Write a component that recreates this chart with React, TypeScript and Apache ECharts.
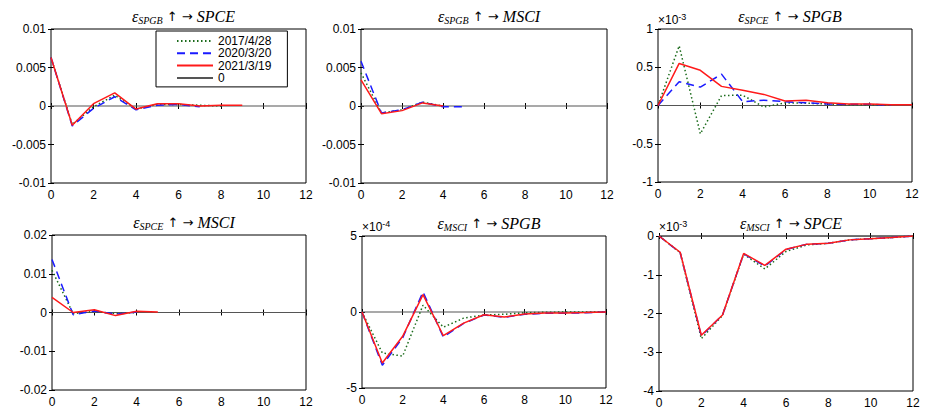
import React, { useEffect, useRef } from 'react';
import * as echarts from 'echarts';

// ---- Data (impulse responses by horizon) ----
const dates = ['2017/4/28', '2020/3/20', '2021/3/19'];
const legendNames = ['2017/4/28', '2020/3/20', '2021/3/19', '0'];

const shocks = ['SPGB', 'SPGB', 'SPCE', 'SPCE', 'MSCI', 'MSCI'];
const responses = ['SPCE', 'MSCI', 'SPGB', 'MSCI', 'SPGB', 'SPCE'];

// y-axis tick settings per panel (values in displayed units)
const yMin = [-0.01, -0.01, -1, -0.02, -5, -4];
const yMax = [0.01, 0.01, 1, 0.02, 5, 0];
const yStep = [0.005, 0.005, 0.5, 0.01, 5, 1];
const yExponent = [null, null, '-3', null, '-4', '-3'];

// Panel 1: SPGB -> SPCE
const p1_2017 = [0.0063, -0.0024, -0.0001, 0.0014, -0.0004, 0.0002, 0.0002, 0.0001, 0.0];
const p1_2020 = [0.0063, -0.0026, -0.0003, 0.0012, -0.0005, 0.0001, 0.0002, -0.0001];
const p1_2021 = [0.0063, -0.0025, 0.0003, 0.0017, -0.0004, 0.0003, 0.0003, 0.0, 0.0001, 0.0001];
// Panel 2: SPGB -> MSCI
const p2_2017 = [0.0043, -0.0009, -0.0005, 0.0005, 0.0];
const p2_2020 = [0.0058, -0.0009, -0.0005, 0.0005, -0.0001, -0.0001];
const p2_2021 = [0.0034, -0.001, -0.0006, 0.0004, 0.0];
// Panel 3: SPCE -> SPGB (x10^-3)
const p3_2017 = [0, 0.78, -0.37, 0.13, 0.135, -0.02, 0.035, 0.03, 0.02, 0.01, 0.01, 0.005];
const p3_2020 = [0, 0.31, 0.24, 0.41, 0.05, 0.07, 0.05, 0.035, 0.02, 0.015, 0.015, 0.005];
const p3_2021 = [0, 0.55, 0.46, 0.25, 0.2, 0.145, 0.06, 0.07, 0.035, 0.02, 0.02, 0.01, 0.01];
// Panel 4: SPCE -> MSCI
const p4_2017 = [0.0109, -0.0003, 0.0003, -0.0003, 0.0];
const p4_2020 = [0.0137, -0.0006, 0.0004, -0.0004, 0.0001];
const p4_2021 = [0.0039, 0.0, 0.0007, -0.0008, 0.0003, 0.0001];
// Panel 5: MSCI -> SPGB (x10^-4)
const p5_2017 = [0, -2.7, -2.9, 0.45, -1.0, -0.4, -0.2, -0.15, -0.05, -0.02, 0, 0, 0];
const p5_2020 = [0, -3.5, -1.7, 1.32, -1.65, -0.75, -0.2, -0.35, -0.15, -0.08, -0.08, -0.05, 0];
const p5_2021 = [0, -3.36, -1.6, 1.14, -1.56, -0.73, -0.18, -0.33, -0.13, -0.07, -0.07, -0.04, 0];
// Panel 6: MSCI -> SPCE (x10^-3)
const p6_2017 = [0, -0.43, -2.65, -2.05, -0.47, -0.85, -0.4, -0.23, -0.19, -0.1, -0.07, -0.04, 0];
const p6_2020 = [0, -0.43, -2.58, -2.04, -0.46, -0.78, -0.35, -0.21, -0.19, -0.1, -0.07, -0.04, 0];
const p6_2021 = [0, -0.42, -2.56, -2.04, -0.45, -0.76, -0.34, -0.21, -0.19, -0.1, -0.07, -0.04, 0];

const zeroLine = [0, 0, 0, 0, 0, 0, 0, 0, 0, 0, 0, 0, 0];

const panels = [
  [p1_2017, p1_2020, p1_2021],
  [p2_2017, p2_2020, p2_2021],
  [p3_2017, p3_2020, p3_2021],
  [p4_2017, p4_2020, p4_2021],
  [p5_2017, p5_2020, p5_2021],
  [p6_2017, p6_2020, p6_2021],
];

// ---- Layout / style ----
const grids = [
  { left: 51, top: 29, width: 255, height: 154 },
  { left: 361, top: 29, width: 246, height: 154 },
  { left: 658, top: 29, width: 254, height: 153 },
  { left: 52, top: 235, width: 254, height: 155 },
  { left: 362, top: 236, width: 244, height: 152 },
  { left: 659, top: 236, width: 254, height: 155 },
];

const lineStyles: any[] = [
  { color: '#1b6b1b', type: [1.5, 2.5], width: 1.5 },
  { color: '#1a1aff', type: [8, 5], width: 1.5 },
  { color: '#ff1a1a', type: 'solid', width: 1.5 },
];
const zeroStyle = { color: '#555', type: 'solid', width: 1.2 };

const sans = 'Liberation Sans, Arial, Helvetica, sans-serif';
const serif = 'Liberation Serif, DejaVu Serif, Times New Roman, serif';

function buildOption() {
  const xAxis: any[] = [];
  const yAxis: any[] = [];
  const series: any[] = [];
  const title: any[] = [];
  const graphic: any[] = [];

  const tick = { show: true, inside: true, length: 3, lineStyle: { color: '#000' } };

  grids.forEach((g, i) => {
    xAxis.push({
      type: 'value', gridIndex: i, min: 0, max: 12, interval: 2,
      axisLine: { show: false }, splitLine: { show: false }, axisTick: tick,
      axisLabel: { color: '#000', fontSize: 12, fontFamily: sans, margin: 6 },
    });
    yAxis.push({
      type: 'value', gridIndex: i, min: yMin[i], max: yMax[i], interval: yStep[i],
      axisLine: { show: false }, splitLine: { show: false }, axisTick: tick,
      axisLabel: { color: '#000', fontSize: 12, fontFamily: sans, margin: 5 },
    });
  });
  grids.forEach((g, i) => {
    xAxis.push({
      type: 'value', gridIndex: i, position: 'top', min: 0, max: 12, interval: 2,
      axisLine: { show: false }, splitLine: { show: false }, axisLabel: { show: false }, axisTick: tick,
    });
    yAxis.push({
      type: 'value', gridIndex: i, position: 'right', min: yMin[i], max: yMax[i], interval: yStep[i],
      axisLine: { show: false }, splitLine: { show: false }, axisLabel: { show: false }, axisTick: tick,
    });
  });

  panels.forEach((p, i) => {
    series.push({
      name: '0', type: 'line', xAxisIndex: i, yAxisIndex: i, symbol: 'none', showSymbol: false,
      lineStyle: zeroStyle, itemStyle: { color: zeroStyle.color },
      data: zeroLine.map((v, k) => [k, v]), silent: true, z: 1,
    });
    p.forEach((arr, s) => {
      series.push({
        name: dates[s], type: 'line', xAxisIndex: i, yAxisIndex: i, symbol: 'none', showSymbol: false,
        lineStyle: lineStyles[s], itemStyle: { color: lineStyles[s].color },
        data: arr.map((v, k) => [k, v]), z: 2 + s,
      });
    });
    const g = grids[i];
    title.push({
      text: `{e|ε}{s|${shocks[i]}}{n| ↑ → }{t|${responses[i]}}`,
      left: g.left + g.width / 2, top: g.top - 27, textAlign: 'center',
      textStyle: {
        fontWeight: 'normal',
        rich: {
          e: { fontFamily: serif, fontStyle: 'italic', fontWeight: 'normal', fontSize: 16, lineHeight: 18, color: '#000' },
          s: { fontFamily: serif, fontStyle: 'italic', fontWeight: 'normal', fontSize: 10, lineHeight: 10, verticalAlign: 'bottom', color: '#000' },
          n: { fontFamily: 'DejaVu Sans, Noto Sans, sans-serif', fontWeight: 'normal', fontSize: 13, lineHeight: 18, color: '#000' },
          t: { fontFamily: serif, fontStyle: 'italic', fontWeight: 'normal', fontSize: 16, lineHeight: 18, color: '#000' },
        },
      },
    });
    if (yExponent[i]) {
      graphic.push({
        type: 'text', left: g.left, top: g.top - 17,
        style: {
          text: `{a|×10}{b|${yExponent[i]}}`,
          rich: {
            a: { fontFamily: sans, fontSize: 12, lineHeight: 16, fill: '#000' },
            b: { fontFamily: sans, fontSize: 9, lineHeight: 9, verticalAlign: 'top', fill: '#000' },
          },
        },
      });
    }
  });

  return {
    animation: false,
    backgroundColor: '#fff',
    grid: grids.map((g) => ({ ...g, show: true, borderColor: '#000', borderWidth: 1, backgroundColor: '#fff' })),
    xAxis, yAxis, series, title, graphic,
    legend: {
      data: legendNames,
      icon: 'inherit',
      orient: 'vertical', left: 156, top: 31,
      padding: [4, 16, 3, 20], itemGap: 0.3, itemWidth: 36, itemHeight: 11,
      borderColor: '#000', borderWidth: 1, backgroundColor: '#fff',
      itemStyle: { opacity: 0 },
      textStyle: { fontFamily: sans, fontSize: 12, color: '#000' },
      selectedMode: false,
    },
  };
}

export default function App() {
  const ref = useRef<HTMLDivElement>(null);
  useEffect(() => {
    const chart = echarts.init(ref.current!, null, { renderer: 'svg' });
    chart.setOption(buildOption() as any);
    return () => chart.dispose();
  }, []);
  return (
    <div
      ref={ref}
      style={{ position: 'absolute', left: 0, top: 0, width: 927, height: 412, background: '#fff' }}
    />
  );
}
